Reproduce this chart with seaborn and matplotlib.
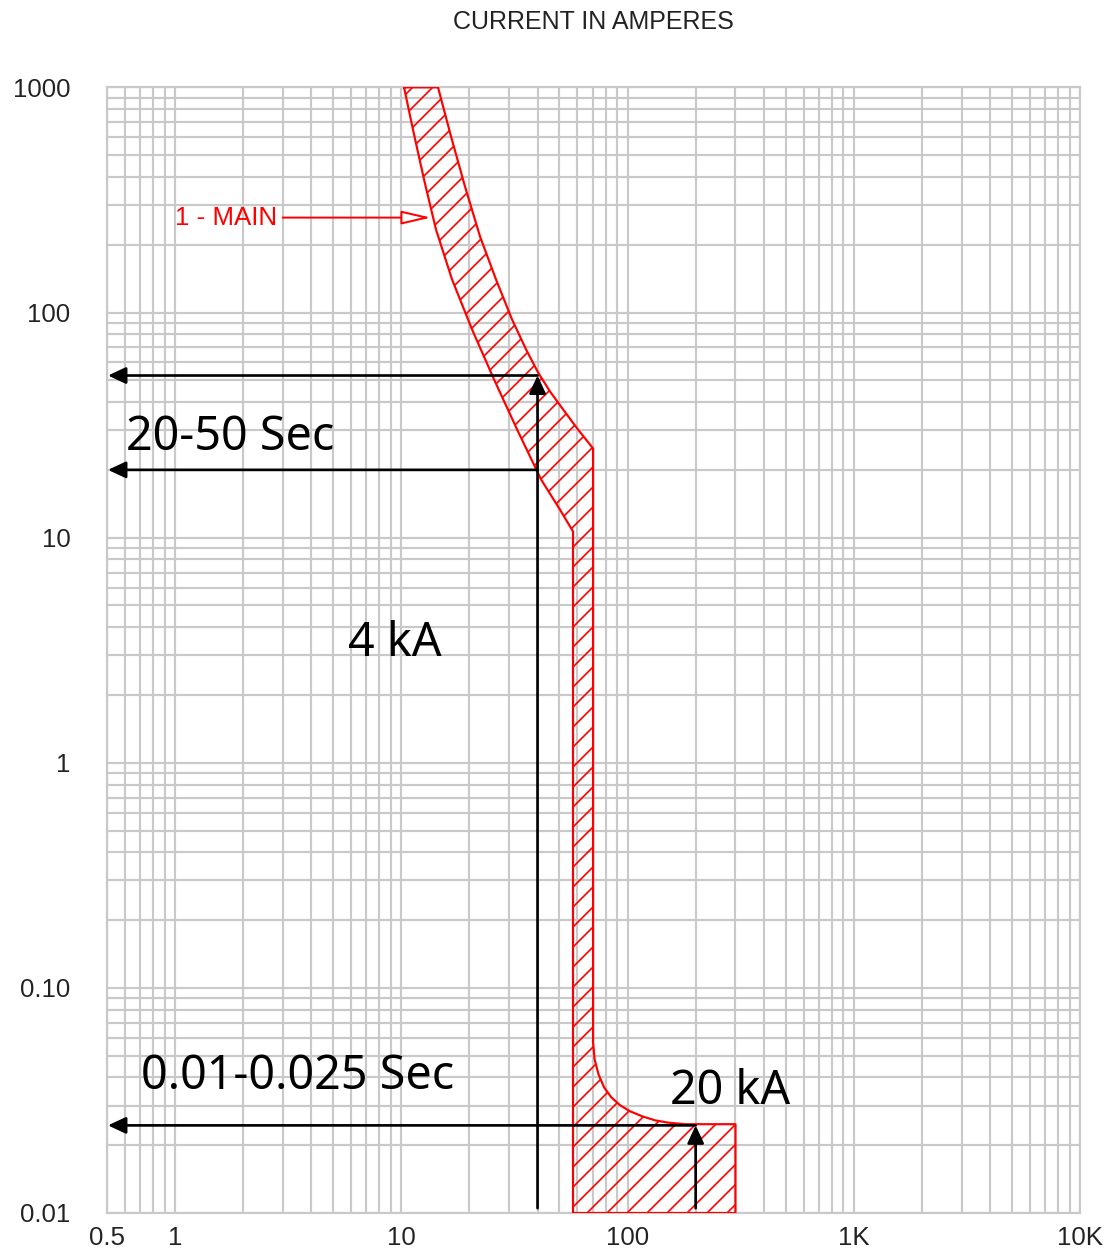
import numpy as np
import pandas as pd
import matplotlib
matplotlib.use("Agg")
import matplotlib.pyplot as plt
import seaborn as sns
from matplotlib.ticker import FixedLocator, FixedFormatter, LogLocator, NullFormatter

# ---------------- data ----------------
# minimum (left) boundary of trip band: current (A), time (s)
min_current = [10.28, 11.26, 12.60, 14.23, 16.76, 20.54, 25.7, 32.5, 41.5, 50.3, 57.4, 57.4]
min_time = [1000, 649, 389.5, 233.7, 140.1, 84.1, 50.4, 30.2, 18.1, 13.3, 10.65, 0.01]

# maximum (right) boundary of trip band
max_current = [14.53, 16.59, 19.12, 22.28, 26.22, 30.86, 35.6, 40.2, 45.4, 51.9, 60.4,
               70.4, 70.4, 71.5, 74.4, 78.7, 84.6, 92.7, 102.6, 115.9, 132.3, 151.0,
               179.6, 300, 300]
max_time = [1000, 604.6, 362.6, 217.5, 140.1, 93.1, 68.5, 54.2, 44.6, 37.1, 30.2,
            24.9, 0.0573, 0.0482, 0.0413, 0.0362, 0.0327, 0.0301, 0.0283, 0.0269,
            0.0258, 0.0252, 0.0248, 0.0248, 0.01]

# annotation arrows
marker_current_1 = 40        # "4 kA"
marker_time_1 = [52.5, 20]   # 20-50 s
marker_current_2 = 200       # "20 kA"
marker_time_2 = 0.0245       # 0.01-0.025 s

x_ticks = [0.5, 1, 10, 100, 1000, 10000]
x_tick_labels = ["0.5", "1", "10", "100", "1K", "10K"]
y_ticks = [0.01, 0.1, 1, 10, 100, 1000]
y_tick_labels = ["0.01", "0.10", "1", "10", "100", "1000"]

title = "CURRENT IN AMPERES"
curve_label = "1 - MAIN"

# ---------------- style ----------------
sns.set_style("white")
plt.rcParams["font.family"] = ["Liberation Sans", "DejaVu Sans"]
plt.rcParams["hatch.linewidth"] = 1.0

GRID = "#c9c9c9"
RED = "#ff0000"

fig = plt.figure(figsize=(1110 / 120, 1251 / 120), dpi=120)
ax = fig.add_axes([0.0964, 0.03038, 0.87658, 0.89976])
ax.set_xscale("log")
ax.set_yscale("log")
ax.set_xlim(0.5, 10000)
ax.set_ylim(0.01, 1000)

# grid
ax.xaxis.set_major_locator(FixedLocator(x_ticks))
ax.xaxis.set_major_formatter(FixedFormatter(x_tick_labels))
ax.yaxis.set_major_locator(FixedLocator(y_ticks))
ax.yaxis.set_major_formatter(FixedFormatter(y_tick_labels))
ax.xaxis.set_minor_locator(LogLocator(base=10, subs=np.arange(2, 10), numticks=100))
ax.yaxis.set_minor_locator(LogLocator(base=10, subs=np.arange(2, 10), numticks=100))
ax.xaxis.set_minor_formatter(NullFormatter())
ax.yaxis.set_minor_formatter(NullFormatter())
ax.grid(True, which="both", color=GRID, lw=1.3)
ax.set_axisbelow(True)
for s in ax.spines.values():
    s.set_color(GRID)
    s.set_linewidth(1.3)
ax.tick_params(axis="both", which="both", length=0, labelsize=15.5, labelcolor="#222222")
ax.tick_params(axis="x", pad=8)
ax.tick_params(axis="y", pad=22)

# ---------------- band ----------------
poly_x = list(min_current) + list(max_current[::-1]) + [min_current[0]]
poly_y = list(min_time) + list(max_time[::-1]) + [min_time[0]]
ax.fill(poly_x, poly_y, facecolor="none", edgecolor=RED, hatch="//", lw=0, zorder=2)

band = pd.DataFrame({"current": poly_x, "time": poly_y})
sns.lineplot(data=band, x="current", y="time", sort=False, estimator=None,
             color=RED, lw=1.3, ax=ax, zorder=3)
ax.set_xlabel("")
ax.set_ylabel("")

# ---------------- arrows ----------------
aprops = dict(arrowstyle="-|>,head_length=0.9,head_width=0.42", color="black",
              lw=1.6, shrinkA=0, shrinkB=0, mutation_scale=10)
x_left = 0.505
ax.annotate("", xy=(marker_current_1, marker_time_1[0]),
            xytext=(marker_current_1, 0.0105), arrowprops=aprops, zorder=5)
for t in marker_time_1:
    ax.annotate("", xy=(x_left, t), xytext=(marker_current_1, t),
                arrowprops=aprops, zorder=5)
ax.annotate("", xy=(marker_current_2, marker_time_2),
            xytext=(marker_current_2, 0.0105), arrowprops=aprops, zorder=5)
ax.annotate("", xy=(x_left, marker_time_2), xytext=(marker_current_2, marker_time_2),
            arrowprops=aprops, zorder=5)

# ---------------- texts ----------------
big = dict(fontsize=28, color="black", family=["Noto Sans", "DejaVu Sans"],
           ha="left", va="baseline", zorder=6)
ax.text(0.607, 24.6, "20-50 Sec", **big)
ax.text(5.82, 2.97, "4 kA", **big)
ax.text(0.707, 0.0355, "0.01-0.025 Sec", **big)
ax.text(154, 0.0304, "20 kA", **big)

ax.annotate(curve_label, xy=(13.5, 264), xytext=(1.0, 264), ha="left", va="center",
            color=RED, fontsize=15.5,
            arrowprops=dict(arrowstyle="-|>,head_length=1.5,head_width=0.35",
                            fc="white", ec=RED, lw=1.2, shrinkA=1, shrinkB=0,
                            mutation_scale=10), zorder=6)

fig.text(593 / 1110, 1 - 22 / 1251, title, ha="center", va="center",
         fontsize=15, color="#222222")

fig.savefig("out.png", dpi=120)
